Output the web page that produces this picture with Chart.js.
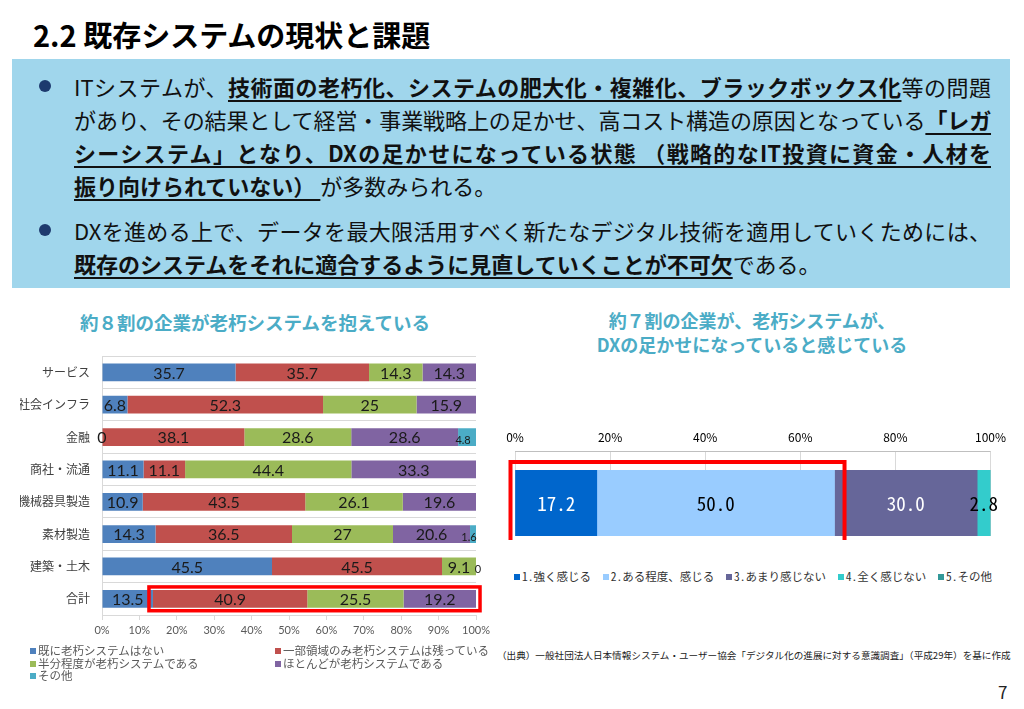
<!DOCTYPE html>
<html lang="ja">
<head>
<meta charset="utf-8">
<script src="https://cdn.jsdelivr.net/npm/chart.js@4"></script>
<style>
  body { margin: 0; width: 1024px; height: 709px; background: #fff; overflow: hidden; position: relative;
         font-family: "Noto Sans CJK JP", "Noto Sans", sans-serif; color: #111; }
  .abs { position: absolute; white-space: nowrap; }
  #title { left: 33px; top: 16px; font-size: 29px; line-height: 36px; font-weight: 700; color: #000; }
  #box { left: 12px; top: 59px; width: 998px; height: 229px; background: #a0d6ec; }
  .line { left: 74px; width: 917px; font-size: 22px; line-height: 30px; color: #111; }
  .just { text-align-last: justify; text-align: justify; }
  .line b { font-weight: 700; text-decoration: underline; text-decoration-thickness: 2px; text-underline-offset: 4px; }
  .dot { width: 12px; height: 12px; border-radius: 50%; background: #1d3a6e; }
  .ctitle { font-size: 18.5px; line-height: 24px; font-weight: 700; color: #4bacc6; text-align: center; }
  #leftLegend { left: 30px; top: 644px; display: grid; grid-template-columns: 245px auto; font-size: 11.5px; line-height: 12.5px; color: #595959; }
  #rightLegend { left: 514px; top: 568px; width: 478px; display: flex; justify-content: space-between;
                 font-family: "Noto Sans Mono CJK JP", "Noto Sans CJK JP", sans-serif; font-size: 11.5px; color: #333; }
  .mk { display: inline-block; width: 6px; height: 6px; margin-right: 2px; vertical-align: 1px; }
</style>
</head>
<body>
<div class="abs" id="title">2.2 既存システムの現状と課題</div>
<div class="abs" id="box"></div>
<div class="abs dot" style="left:39px; top:80px"></div>
<div class="abs line just" style="top:71px">ITシステムが、<b>技術面の老朽化、システムの肥大化・複雑化、ブラックボックス化</b>等の問題</div>
<div class="abs line just" style="top:104px; letter-spacing:-0.2px">があり、その結果として経営・事業戦略上の足かせ、高コスト構造の原因となっている<b>「レガ</b></div>
<div class="abs line just" style="top:137px"><b>シーシステム」となり、DXの足かせになっている状態 （戦略的なIT投資に資金・人材を</b></div>
<div class="abs line" style="top:170px"><b>振り向けられていない）&nbsp;</b>が多数みられる。</div>
<div class="abs dot" style="left:39px; top:224px"></div>
<div class="abs line just" style="top:215px">DXを進める上で、データを最大限活用すべく新たなデジタル技術を適用していくためには、</div>
<div class="abs line" style="top:248px"><b>既存のシステムをそれに適合するように見直していくことが不可欠</b>である。</div>

<div class="abs ctitle" style="left:40px; width:430px; top:310px">約８割の企業が老朽システムを抱えている</div>
<div class="abs ctitle" style="left:500px; width:504px; top:308px; font-size:18px">約７割の企業が、老朽システムが、<br>DXの足かせになっていると感じている</div>

<div class="abs" style="left:20px; top:337px; width:474px; height:308px"><canvas id="leftChart"></canvas></div>
<div class="abs" style="left:500px; top:420px; width:512px; height:120px"><canvas id="rightChart"></canvas></div>

<div class="abs" id="leftLegend"></div>
<div class="abs" id="rightLegend"></div>

<div class="abs" style="left:497px; top:648px; font-size:9.6px; color:#222">（出典）一般社団法人日本情報システム・ユーザー協会「デジタル化の進展に対する意識調査」（平成29年）を基に作成</div>
<div class="abs" style="left:998px; top:679px; font-size:17px; color:#222">7</div>

<script>
// 左のグラフ: 業種別の老朽システムの状況 (%)
const categories = ['サービス', '社会インフラ', '金融', '商社・流通', '機械器具製造', '素材製造', '建築・土木', '合計'];
const seriesNames = ['既に老朽システムはない', '一部領域のみ老朽システムは残っている', '半分程度が老朽システムである', 'ほとんどが老朽システムである', 'その他'];
const noneValues = [35.7, 6.8, 0, 11.1, 10.9, 14.3, 45.5, 13.5];
const partValues = [35.7, 52.3, 38.1, 11.1, 43.5, 36.5, 45.5, 40.9];
const halfValues = [14.3, 25, 28.6, 44.4, 26.1, 27, 9.1, 25.5];
const mostValues = [14.3, 15.9, 28.6, 33.3, 19.6, 20.6, 0, 19.2];
const otherValues = [null, null, 4.8, null, null, 1.6, null, null];
const leftColors = ['#4f81bd', '#c0504d', '#9bbb59', '#8064a2', '#4bacc6'];

// 右のグラフ: DXの足かせと感じるか (%)
const feelNames = ['1.強く感じる', '2.ある程度、感じる', '3.あまり感じない', '4.全く感じない', '5.その他'];
const feelValues = [17.2, 50.0, 30.0, 2.8, 0];
const rightColors = ['#0066cc', '#99ccff', '#666699', '#33cccc', '#339999'];

const leftSeries = [noneValues, partValues, halfValues, mostValues, otherValues];

// Excelの100%積み上げと同じく行ごとに正規化する
const rowSums = categories.map((c, i) => leftSeries.reduce((s, arr) => s + (arr[i] || 0), 0));

// 値ラベルと赤枠（左）
const leftLabels = {
    id: 'leftLabels',
    afterDatasetsDraw(chart) {
        const ctx = chart.ctx;
        ctx.save();
        ctx.textAlign = 'center';
        ctx.textBaseline = 'middle';
        ctx.fillStyle = '#1a1a1a';
        chart.data.datasets.forEach((ds, di) => {
            chart.getDatasetMeta(di).data.forEach((bar, i) => {
                const raw = ds.raw[i];
                if (raw === null) return;
                const small = di >= 3 && raw < 5;
                ctx.font = (small ? '11px' : '16px') + ' Lato, sans-serif';
                const cx = (bar.x + bar.base) / 2 + (small && raw > 0 ? -4 : 0) + (small && raw === 0 ? 2 : 0);
                ctx.fillText(String(raw), cx, bar.y + (small ? 3 : 1));
            });
        });
        // 合計の赤枠
        const last = categories.length - 1;
        const a = chart.getDatasetMeta(1).data[last];
        const b = chart.getDatasetMeta(3).data[last];
        ctx.strokeStyle = '#ff0000';
        ctx.lineWidth = 3.5;
        ctx.strokeRect(a.base - 4, a.y - a.height / 2 - 3, b.x + 4 - (a.base - 4), a.height + 6);
        ctx.restore();
    }
};

new Chart(document.getElementById('leftChart'), {
    type: 'bar',
    data: {
        labels: categories,
        datasets: leftSeries.map((arr, k) => ({
            label: seriesNames[k],
            data: arr.map((v, i) => v === null ? null : v / rowSums[i] * 100),
            raw: arr,
            backgroundColor: leftColors[k],
            barPercentage: 0.55,
            categoryPercentage: 1
        }))
    },
    options: {
        indexAxis: 'y',
        responsive: true,
        maintainAspectRatio: false,
        animation: false,
        layout: { padding: { top: 10, right: 14, bottom: 5, left: 0 } },
        plugins: { legend: { display: false }, tooltip: { enabled: false } },
        scales: {
            x: {
                stacked: true, min: 0, max: 100,
                afterFit: s => { s.height = 25; },
                ticks: { stepSize: 10, callback: v => v + '%', font: { family: 'Lato', size: 11 }, color: '#595959', padding: 4, maxRotation: 0 },
                grid: { drawOnChartArea: false, tickLength: 5, color: '#d9d9d9' },
                border: { color: '#d9d9d9' }
            },
            y: {
                stacked: true,
                afterFit: s => { s.width = 82; },
                ticks: { font: { family: 'Noto Sans CJK JP', size: 12 }, color: '#404040', padding: 12 },
                grid: { color: '#d9d9d9', drawTicks: false, offset: true },
                border: { color: '#d9d9d9' }
            }
        }
    },
    plugins: [leftLabels]
});

// 値ラベル・上枠・赤枠（右）
const rightLabels = {
    id: 'rightLabels',
    afterDatasetsDraw(chart) {
        const ctx = chart.ctx;
        const area = chart.chartArea;
        ctx.save();
        ctx.strokeStyle = '#bfbfbf';
        ctx.lineWidth = 1;
        ctx.beginPath();
        ctx.moveTo(area.left, area.top - 18.5);
        ctx.lineTo(area.right, area.top - 18.5);
        ctx.stroke();
        const textColors = ['#fff', '#000', '#fff', '#000', '#000'];
        ctx.textAlign = 'center';
        ctx.textBaseline = 'middle';
        ctx.font = '19px "Noto Sans Mono CJK JP", "Liberation Mono", monospace';
        chart.data.datasets.forEach((ds, di) => {
            const bar = chart.getDatasetMeta(di).data[0];
            const v = ds.data[0];
            if (!v) return;
            ctx.fillStyle = textColors[di];
            ctx.fillText(v.toFixed(1), (bar.x + bar.base) / 2, bar.y + 1);
        });
        const a = chart.getDatasetMeta(0).data[0];
        const b = chart.getDatasetMeta(1).data[0];
        ctx.strokeStyle = '#ff0000';
        ctx.lineWidth = 4;
        ctx.strokeRect(a.base - 5, a.y - a.height / 2 - 8, b.x + 10 - (a.base - 5), a.height + 17);
        ctx.restore();
    }
};

new Chart(document.getElementById('rightChart'), {
    type: 'bar',
    data: {
        labels: [''],
        datasets: feelValues.map((v, k) => ({
            label: feelNames[k],
            data: [v],
            backgroundColor: rightColors[k],
            barPercentage: 1,
            categoryPercentage: 1
        }))
    },
    options: {
        indexAxis: 'y',
        responsive: true,
        maintainAspectRatio: false,
        animation: false,
        layout: { padding: { top: 0, right: 20, bottom: 4, left: 15 } },
        plugins: { legend: { display: false }, tooltip: { enabled: false } },
        scales: {
            x: {
                stacked: true, position: 'top', min: 0, max: 100,
                afterFit: s => { s.height = 50; },
                ticks: { stepSize: 20, callback: v => v + '%', font: { family: 'Noto Sans CJK JP', size: 12 }, color: '#000', padding: 6, maxRotation: 0 },
                grid: { color: '#d9d9d9', tickLength: 19 },
                border: { display: false }
            },
            y: { stacked: true, display: false }
        }
    },
    plugins: [rightLabels]
});

// 凡例
function legendItem(name, color) {
    return `<span><span class="mk" style="background:${color}"></span>${name}</span>`;
}
document.getElementById('leftLegend').innerHTML = seriesNames.map((n, k) => legendItem(n, leftColors[k])).join('');
document.getElementById('rightLegend').innerHTML = feelNames.map((n, k) => legendItem(n, rightColors[k])).join('');
</script>
</body>
</html>
